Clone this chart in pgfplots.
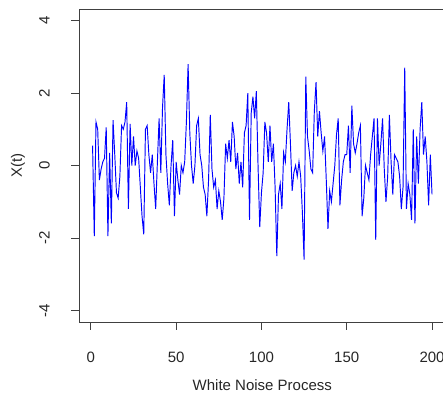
\documentclass[border=0pt]{standalone}
\usepackage{pgfplots}
\pgfplotsset{compat=1.18}
\usepackage{fontspec}
\setmainfont{Liberation Sans}
\begin{document}
\begin{tikzpicture}
\path[use as bounding box, clip] (-79pt,-71pt) rectangle (364pt,322pt);
\begin{axis}[
  scale only axis,
  width=366.6pt, height=313pt,
  xmin=-6.96, xmax=207.96, ymin=-4.32, ymax=4.32,
  xtick={0,50,100,150,200}, ytick={-4,-2,0,2,4},
  tick pos=left, tick align=outside,
  major tick length=7.5pt,
  axis line style={black!75, line width=0.8pt},
  tick style={black!75, line width=0.8pt},
  /pgf/number format/assume math mode=true,
  font=\fontsize{15}{18}\selectfont,
  xticklabel style={anchor=center, yshift=-28pt, text=black!85},
  yticklabel style={xshift=-27pt, rotate=90, anchor=center, text=black!85},
  xlabel={White Noise Process},
  xlabel style={at={(axis description cs:0.5,0)}, anchor=center, yshift=-63pt, text=black!85},
  ylabel={X(t)},
  ylabel style={at={([xshift=-61pt]axis description cs:0,0.5)}, anchor=center, text=black!85},
]
\addplot[blue, line width=0.95pt, mark=none] coordinates {
(1,0.55)(2,-1.95)(3,1.2)(4,1.0)(5,-0.4)(6,-0.1)(7,0.1)(8,0.2)(9,1.05)(10,-1.95)
(11,0.35)(12,-1.6)(13,1.25)(14,0.3)(15,-0.75)(16,-0.9)(17,-0.3)(18,1.1)(19,1.0)(20,1.2)
(21,1.75)(22,-1.2)(23,1.15)(24,0.0)(25,0.8)(26,0.0)(27,0.4)(28,0.2)(29,-0.6)(30,-1.4)
(31,-1.9)(32,1.0)(33,1.1)(34,0.3)(35,-0.2)(36,0.3)(37,-0.5)(38,-1.2)(39,0.1)(40,1.3)
(41,-0.2)(42,1.6)(43,2.5)(44,0.3)(45,-0.5)(46,-1.1)(47,0.0)(48,0.7)(49,-1.4)(50,0.1)
(51,-0.4)(52,-0.8)(53,0.0)(54,-0.2)(55,0.1)(56,1.2)(57,2.8)(58,0.9)(59,0.0)(60,-0.5)
(61,0.0)(62,1.1)(63,1.3)(64,0.3)(65,0.0)(66,-0.6)(67,-0.8)(68,-1.4)(69,-0.4)(70,1.4)
(71,-0.1)(72,-0.6)(73,-0.4)(74,-1.2)(75,-0.7)(76,-1.0)(77,-1.5)(78,-0.9)(79,0.6)(80,0.2)
(81,0.7)(82,0.1)(83,1.2)(84,0.8)(85,-0.1)(86,0.35)(87,-0.5)(88,0.1)(89,-0.6)(90,0.9)
(91,1.1)(92,2.0)(93,-1.5)(94,1.45)(95,1.9)(96,1.3)(97,2.05)(98,0.0)(99,-1.7)(100,-0.75)
(101,-0.2)(102,1.2)(103,0.9)(104,0.1)(105,1.1)(106,0.1)(107,0.6)(108,-0.6)(109,-2.5)(110,-0.8)
(111,-0.5)(112,-1.2)(113,0.35)(114,0.1)(115,1.0)(116,1.75)(117,0.6)(118,-0.7)(119,-0.2)(120,0.0)
(121,-0.3)(122,0.1)(123,-0.3)(124,-1.3)(125,-2.6)(126,2.45)(127,0.8)(128,0.4)(129,-0.1)(130,-0.2)
(131,1.5)(132,2.3)(133,0.8)(134,1.5)(135,0.9)(136,0.4)(137,0.8)(138,-0.4)(139,-1.75)(140,-0.7)
(141,-1.0)(142,-0.5)(143,0.0)(144,0.85)(145,1.3)(146,-1.1)(147,-0.4)(148,0.1)(149,0.3)(150,0.3)
(151,1.1)(152,-0.2)(153,1.65)(154,0.6)(155,0.35)(156,0.6)(157,0.9)(158,1.1)(159,-1.4)(160,-0.9)
(161,0.0)(162,-0.2)(163,-0.4)(164,0.3)(165,0.8)(166,1.3)(167,-2.05)(168,1.3)(169,0.0)(170,0.6)
(171,1.3)(172,-0.1)(173,-1.0)(174,-0.3)(175,1.4)(176,0.1)(177,-0.8)(178,0.3)(179,0.2)(180,0.1)
(181,-0.3)(182,-1.2)(183,-0.6)(184,2.7)(185,-1.2)(186,-0.5)(187,-0.8)(188,-1.5)(189,1.0)(190,-1.6)
(191,0.8)(192,-0.5)(193,1.0)(194,1.75)(195,0.3)(196,0.8)(197,0.1)(198,-1.1)(199,0.3)(200,-0.8)
};
\end{axis}
\end{tikzpicture}
\end{document}
